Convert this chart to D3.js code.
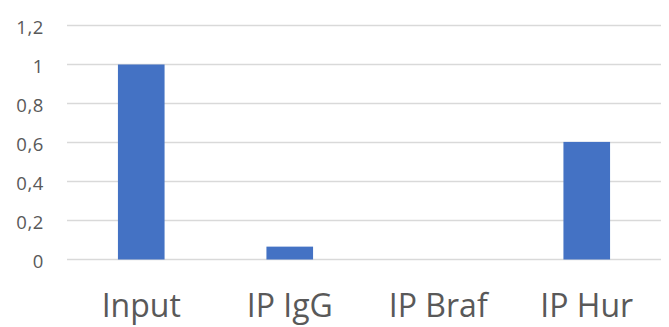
<!DOCTYPE html>
<html>
<head>
<meta charset="utf-8">
<script src="https://cdn.jsdelivr.net/npm/d3@7"></script>
<style>
  html, body { margin: 0; padding: 0; background: #ffffff; }
  svg { display: block; }
</style>
</head>
<body>
<svg id="chart" width="669" height="327"></svg>
<script>
const categories = ["Input", "IP IgG", "IP Braf", "IP Hur"];
const values = [1.0, 0.066, 0, 0.603];
const tickValues = [0, 0.2, 0.4, 0.6, 0.8, 1.0, 1.2];
const tickLabels = ["0", "0,2", "0,4", "0,6", "0,8", "1", "1,2"];

(function () {
const svg = d3.select("#chart");
const plotLeft = 67, plotRight = 661, plotTop = 25.5, plotBottom = 259.5;

const x = d3.scaleBand()
  .domain(categories)
  .range([plotLeft, plotRight])
  .paddingInner(0.686)
  .paddingOuter(0.343);

const y = d3.scaleLinear().domain([0, 1.2]).range([plotBottom, plotTop]);

// gridlines
svg.append("g")
  .selectAll("line")
  .data(tickValues)
  .join("line")
  .attr("x1", plotLeft)
  .attr("x2", plotRight)
  .attr("y1", d => y(d))
  .attr("y2", d => y(d))
  .attr("stroke", "#d9d9d9")
  .attr("stroke-width", 1.6);

// y-axis labels
const yAxis = d3.axisLeft(y)
  .tickValues(tickValues)
  .tickFormat((d, i) => tickLabels[i])
  .tickSize(0)
  .tickPadding(0);

const gy = svg.append("g")
  .attr("transform", `translate(44,0)`)
  .call(yAxis);
gy.select(".domain").remove();
gy.selectAll("text")
  .attr("font-family", "'Open Sans', sans-serif")
  .attr("font-size", 18.5)
  .attr("letter-spacing", "0.6px")
  .attr("fill", "#595959")
  .attr("dy", "0.42em");

// bars
svg.append("g")
  .selectAll("rect")
  .data(categories.map((c, i) => ({ c, v: values[i] })))
  .join("rect")
  .attr("x", d => x(d.c))
  .attr("width", x.bandwidth())
  .attr("y", d => y(d.v))
  .attr("height", d => y(0) - y(d.v))
  .attr("fill", "#4472C4");

// x-axis labels
const xAxis = d3.axisBottom(x).tickSize(0).tickPadding(0);
const gx = svg.append("g")
  .attr("transform", `translate(0,317)`)
  .call(xAxis);
gx.select(".domain").remove();
gx.selectAll("text")
  .attr("font-family", "'Open Sans', sans-serif")
  .attr("font-size", 32)
  .attr("fill", "#595959")
  .attr("dy", null)
  .attr("y", 0);
})();
</script>
</body>
</html>
